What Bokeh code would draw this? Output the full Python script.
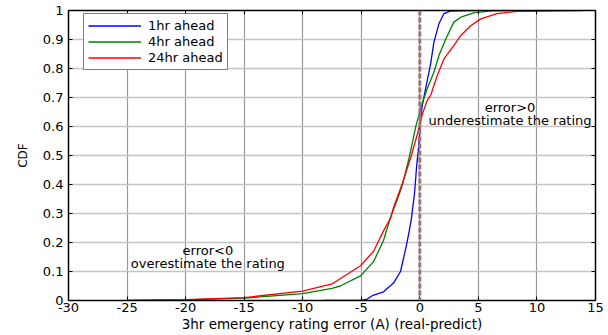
from bokeh.plotting import figure
from bokeh.models import (Range1d, LinearAxis, FixedTicker, CustomJSTickFormatter,
                          Span, Legend, LegendItem, Label)
from bokeh.embed import file_html
from bokeh.resources import INLINE

# ---- data ----
x_1hr = [-8.2, -5.0, -4.5, -4.0, -3.1, -2.25, -1.65, -1.2, -0.95, -0.73, -0.45, -0.28,
         -0.08, 0.06, 0.2, 0.49, 0.92, 1.2, 1.63, 2.05, 2.6, 4.0, 5.0]
y_1hr = [0.0, 0.0, 0.005, 0.018, 0.03, 0.06, 0.10, 0.18, 0.23, 0.28, 0.37, 0.46,
         0.54, 0.62, 0.67, 0.73, 0.816, 0.89, 0.954, 0.989, 0.998, 1.0, 1.0]

x_4hr = [-25, -20, -15, -10, -7.5, -6.8, -5.06, -3.95, -3.1, -2.48, -1.9, -1.48,
         -0.9, -0.33, 0.2, 0.63, 1.2, 1.63, 2.2, 2.9, 3.5, 4.6, 6.1, 10.2]
y_4hr = [0.0, 0.002, 0.008, 0.024, 0.042, 0.05, 0.085, 0.134, 0.207, 0.29, 0.35, 0.40,
         0.494, 0.603, 0.68, 0.73, 0.787, 0.845, 0.90, 0.96, 0.977, 0.992, 0.999, 1.0]

x_24hr = [-25, -20, -15, -10, -7.5, -6.8, -5.06, -3.95, -3.1, -2.48, -2.25, -1.48,
          -0.77, -0.2, 0.2, 0.63, 0.92, 1.49, 2.06, 2.9, 3.5, 4.37, 5.2, 6.6, 8.3, 13.9]
y_24hr = [0.0, 0.003, 0.01, 0.032, 0.057, 0.075, 0.12, 0.17, 0.24, 0.285, 0.32, 0.405,
          0.494, 0.575, 0.64, 0.69, 0.707, 0.776, 0.833, 0.879, 0.914, 0.948, 0.971,
          0.989, 0.997, 1.0]

series_names = ["1hr ahead", "4hr ahead", "24hr ahead"]
x_ticks = [-30, -25, -20, -15, -10, -5, 0, 5, 10, 15]
y_ticks = [0, 0.1, 0.2, 0.3, 0.4, 0.5, 0.6, 0.7, 0.8, 0.9, 1.0]
x_label = "3hr emergency rating error (A) (real-predict)"
y_label = "CDF"
note_pos = ["error>0", "underestimate the rating"]
note_neg = ["error<0", "overestimate the rating"]

FONT = "DejaVu Sans"

p = figure(width=608, height=335, output_backend="svg", toolbar_location=None,
           x_range=Range1d(-30, 15), y_range=Range1d(0, 1),
           min_border_left=68, min_border_right=13, min_border_top=10, min_border_bottom=35)
p.outline_line_color = None
p.background_fill_color = "white"
p.border_fill_color = "white"

# grid
p.xgrid.ticker = FixedTicker(ticks=x_ticks)
p.ygrid.ticker = FixedTicker(ticks=y_ticks)
p.xgrid.grid_line_color = "#9a9a9a"
p.xgrid.grid_line_width = 1.2
p.ygrid.grid_line_color = "#c4c4c4"
p.ygrid.grid_line_width = 1.5

xfmt = CustomJSTickFormatter(code="return String(Math.round(tick));")
yfmt = CustomJSTickFormatter(code="return (Math.round(tick*10)/10).toString();")
blank = CustomJSTickFormatter(code="return '';")

def style_axis(ax, ticks, show_labels):
    ax.ticker = FixedTicker(ticks=ticks)
    ax.major_tick_in = 4
    ax.major_tick_out = 0
    ax.minor_tick_line_color = None
    ax.axis_line_color = "black"
    ax.axis_line_width = 1.5
    ax.major_tick_line_color = "black"
    ax.major_label_text_font = FONT
    ax.major_label_text_color = "black"
    ax.major_label_text_font_size = "13px"
    ax.axis_label_text_color = "black"
    if show_labels:
        ax.major_label_standoff = 2
    else:
        ax.formatter = blank
        ax.major_label_standoff = 0

xa = p.xaxis[0]
style_axis(xa, x_ticks, True)
xa.formatter = xfmt
xa.axis_label = x_label
xa.axis_label_text_font = FONT
xa.axis_label_text_font_size = "13.5px"
xa.axis_label_text_font_style = "normal"
xa.axis_label_standoff = 1

ya = p.yaxis[0]
style_axis(ya, y_ticks, True)
ya.formatter = yfmt
ya.major_label_standoff = 5
ya.axis_label = y_label
ya.axis_label_text_font = FONT
ya.axis_label_text_font_size = "12px"
ya.axis_label_text_font_style = "normal"
ya.axis_label_standoff = 10

top = LinearAxis()
style_axis(top, x_ticks, False)
p.add_layout(top, "above")
right = LinearAxis()
style_axis(right, y_ticks, False)
p.add_layout(right, "right")

# zero reference line
p.add_layout(Span(location=0, dimension="height", line_color="#9c7676",
                  line_width=3, line_dash="5 2"))

r1 = p.line(x_1hr, y_1hr, line_color="#0000ff", line_width=1.3)
r2 = p.line(x_4hr, y_4hr, line_color="#008000", line_width=1.3)
r3 = p.line(x_24hr, y_24hr, line_color="#ff0000", line_width=1.3)

legend = Legend(items=[LegendItem(label=series_names[0], renderers=[r1]),
                       LegendItem(label=series_names[1], renderers=[r2]),
                       LegendItem(label=series_names[2], renderers=[r3])],
                location=(15, 290 - 5 - 55))
legend.label_text_font = FONT
legend.label_text_font_size = "13px"
legend.label_text_color = "black"
legend.label_height = 15
legend.glyph_height = 15
legend.glyph_width = 53
legend.label_standoff = 7
legend.spacing = 1
legend.padding = 4
legend.margin = 0
legend.border_line_color = "black"
legend.border_line_width = 1
legend.background_fill_color = "white"
legend.background_fill_alpha = 1
p.add_layout(legend, "center")

for txt, yy in zip(note_pos, [0.666, 0.62]):
    p.add_layout(Label(x=7.7, y=yy, text=txt, text_align="center", text_baseline="middle",
                       text_font=FONT, text_font_size="13px", text_color="black"))
for txt, yy in zip(note_neg, [0.172, 0.128]):
    p.add_layout(Label(x=-18.1, y=yy, text=txt, text_align="center", text_baseline="middle",
                       text_font=FONT, text_font_size="13px", text_color="black"))

open("out.html", "w").write(file_html(p, INLINE))
